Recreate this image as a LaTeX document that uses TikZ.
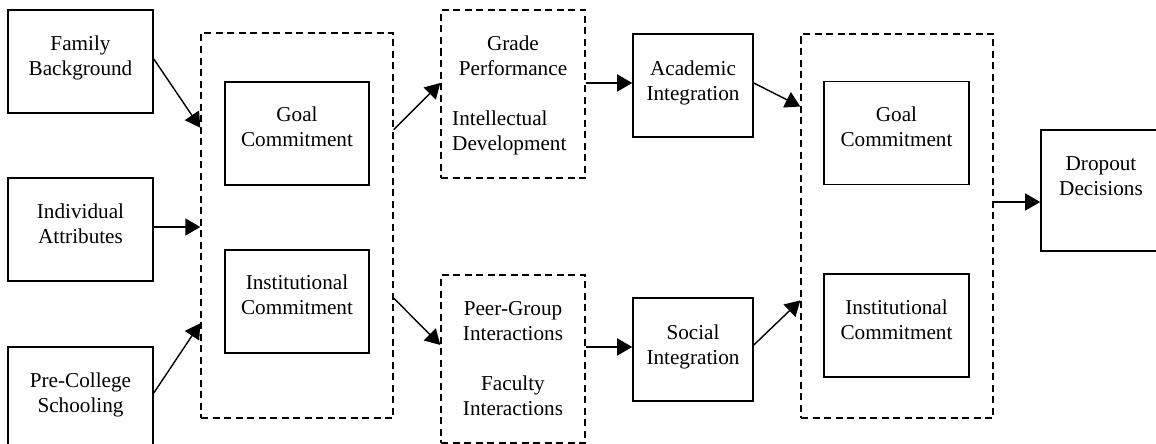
\documentclass[tikz,border=0pt]{standalone}
\usepackage{fontspec}
\setmainfont{Liberation Serif}
\usetikzlibrary{arrows.meta,calc}

\tikzset{
  solidbox/.style={draw, line width=1.6pt, minimum width=#1, inner sep=0pt},
  dashbox/.style={draw, line width=1.4pt, dash pattern=on 7pt off 4.5pt, inner sep=0pt},
  lbl/.style={anchor=north, inner sep=0pt, align=center,
              font=\fontsize{21.2}{25}\selectfont},
  lblleft/.style={anchor=north west, inner sep=0pt, align=left,
              font=\fontsize{21.2}{25}\selectfont},
  flow/.style={line width=1.4pt, -{Triangle[length=15pt,width=17pt]}},
}

\begin{document}
\begin{tikzpicture}[x=1pt,y=-1pt]
\useasboundingbox (0,0) rectangle (1156,444);
\clip (0,0) rectangle (1156,444);

% background factors
\node[solidbox=145pt, minimum height=103pt] (fam) at (80.5,61.5) {};
\node[solidbox=145pt, minimum height=103pt] (ind) at (80.5,229.5) {};
\node[solidbox=145pt, minimum height=103pt] (pre) at (80.5,398.5) {};
\node[lbl] (famt) at ($(fam.north)+(0,23.5)$) {\strut Family\\Background};
\node[lbl] (indt) at ($(ind.north)+(0,23.5)$) {\strut Individual\\Attributes};
\node[lbl] (pret) at ($(pre.north)+(0,23.5)$) {\strut Pre-College\\Schooling};

% initial commitments
\node[dashbox, minimum width=192pt, minimum height=385pt] (d1) at (297,225.5) {};
\node[solidbox=144pt, minimum height=103pt] (g1) at (297,133.5) {};
\node[solidbox=144pt, minimum height=103pt] (i1) at (297,301.5) {};
\node[lbl] (g1t) at ($(g1.north)+(0,22.5)$) {\strut Goal\\Commitment};
\node[lbl] (i1t) at ($(i1.north)+(0,22.5)$) {\strut Institutional\\Commitment};

% academic and social systems
\node[dashbox, minimum width=144pt, minimum height=168pt] (gp) at (513,94) {};
\node[dashbox, minimum width=144pt, minimum height=168pt] (pg) at (513,359) {};
\node[lbl] (gpt) at ($(gp.north)+(0,23.5)$) {\strut Grade\\Performance};
\node[lblleft] (idt) at (452,107.5) {\strut Intellectual\\Development};
\node[lbl] (pgt) at ($(pg.north)+(0,23.5)$) {\strut Peer-Group\\Interactions\\[25pt]Faculty\\Interactions};

% integration
\node[solidbox=120pt, minimum height=103pt] (ac) at (693,85.5) {};
\node[solidbox=120pt, minimum height=103pt] (so) at (693,349.5) {};
\node[lbl] (act) at ($(ac.north)+(0,24.5)$) {\strut Academic\\Integration};
\node[lbl] (sot) at ($(so.north)+(0,24.5)$) {\strut Social\\Integration};

% later commitments
\node[dashbox, minimum width=192pt, minimum height=384pt] (d2) at (897,226) {};
\node[solidbox=145pt, minimum height=103pt] (g2) at (896.5,133) {};
\node[solidbox=145pt, minimum height=103pt] (i2) at (896.5,325.5) {};
\node[lbl] (g2t) at ($(g2.north)+(0,23.5)$) {\strut Goal\\Commitment};
\node[lbl] (i2t) at ($(i2.north)+(0,23.5)$) {\strut Institutional\\Commitment};

% outcome
\node[solidbox=120pt, minimum height=121pt] (dd) at (1101,190.5) {};
\node[lbl] (ddt) at ($(dd.north)+(0,23.5)$) {\strut Dropout\\Decisions};

% connectors
\draw[flow] ($(fam.east)+(0,-2.5)$) -- ($(d1.north west)!0.247!(d1.south west)$);
\draw[flow] (ind.east |- 0,227) -- (d1.west |- 0,227);
\draw[flow] ($(pre.east)+(0,-5.5)$) -- ($(d1.north west)!0.753!(d1.south west)$);

\draw[flow] ($(d1.north east)!0.252!(d1.south east)$) -- ($(gp.north west)!0.435!(gp.south west)$);
\draw[flow] ($(d1.north east)!0.688!(d1.south east)$) -- ($(pg.north west)!0.417!(pg.south west)$);

\draw[flow] (gp.east |- 0,83) -- (ac.west |- 0,83);
\draw[flow] (pg.east |- 0,347) -- (so.west |- 0,347);

\draw[flow] ($(ac.east)+(0,-2.5)$) -- ($(d2.north west)!0.19!(d2.south west)$);
\draw[flow] ($(so.east)+(0,-4.5)$) -- ($(d2.north west)!0.693!(d2.south west)$);

\draw[flow] (d2.east |- 0,202) -- (dd.west |- 0,202);
\end{tikzpicture}
\end{document}
